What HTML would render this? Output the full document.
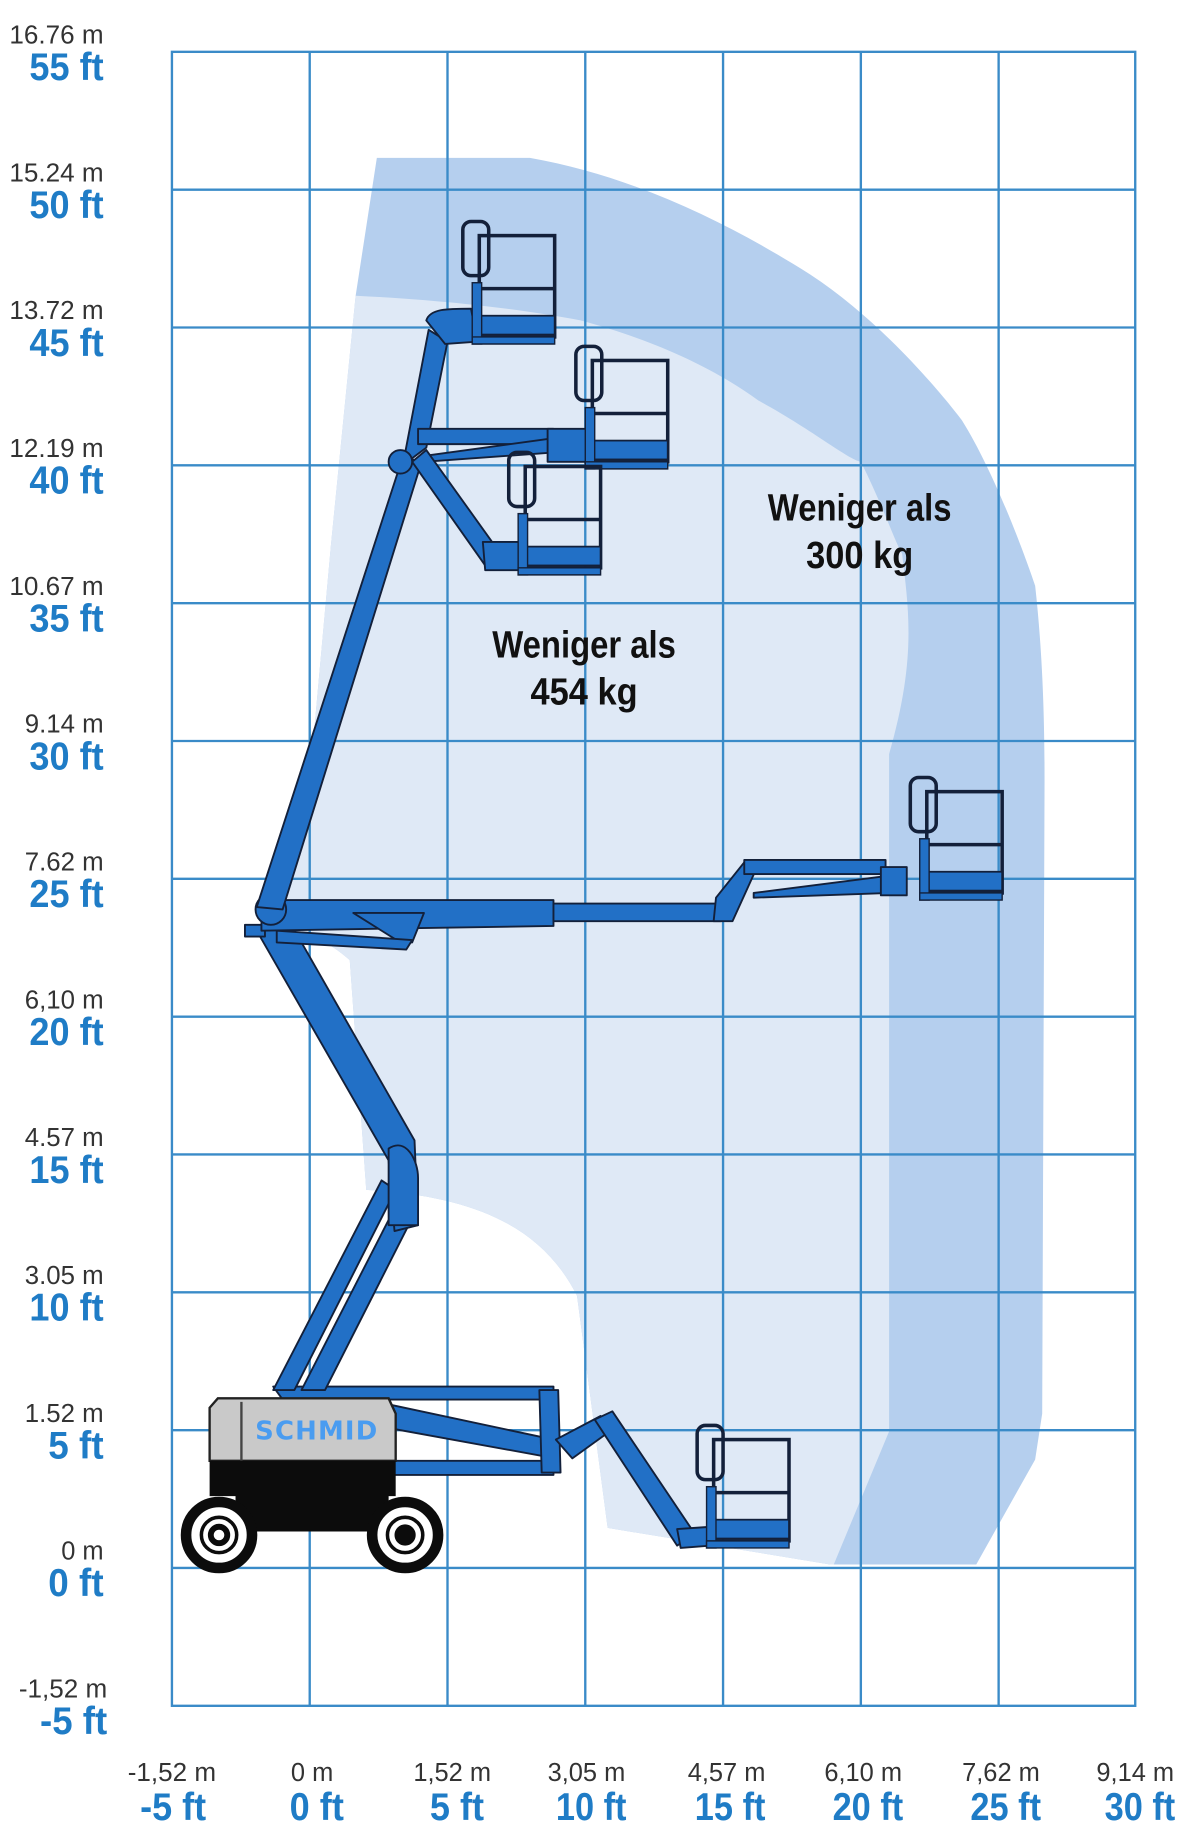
<!DOCTYPE html>
<html><head><meta charset="utf-8"><style>
html,body{margin:0;padding:0;background:#fff;width:1200px;height:1846px;overflow:hidden}
svg{display:block}
.m{font-family:"Liberation Sans Narrow","Liberation Sans",sans-serif;font-size:22px;fill:#333}
.f{font-family:"Liberation Sans Narrow","Liberation Sans",sans-serif;font-size:33px;font-weight:bold;fill:#1f7cc6}
.w{font-family:"Liberation Sans Narrow","Liberation Sans",sans-serif;font-size:32px;font-weight:bold;fill:#111}
.b{fill:#2270c6;stroke:#13203a;stroke-width:1.6;stroke-linejoin:round}
</style></head><body>
<svg width="1200" height="1846" viewBox="0 0 1019 1567" preserveAspectRatio="none" xmlns="http://www.w3.org/2000/svg">
<defs>
<g id="plat">
  <rect x="-14" y="-12" width="22" height="46" rx="7" fill="none" stroke="#13203a" stroke-width="3"/>
  <rect x="0" y="0" width="64" height="86" fill="none" stroke="#13203a" stroke-width="3"/>
  <line x1="0" y1="45" x2="64" y2="45" stroke="#13203a" stroke-width="3"/>
  <rect x="0" y="68" width="64" height="16" fill="#2270c6" stroke="#13203a" stroke-width="1.5"/>
  <rect x="-6" y="40" width="8" height="52" fill="#2270c6" stroke="#13203a" stroke-width="1.2"/>
  <path d="M-6 86 L64 86 L64 92 L-6 92Z" fill="#2270c6" stroke="#13203a" stroke-width="1.2"/>
</g>
</defs>
<!-- envelope -->
<path d="M320,134 L450,134 C540,150 620,190 688,233 C760,280 817,357 817,357 C850,410 879,497 879,497 C886,560 887,620 887,663 L885,1200 L879,1239 L829,1328 L705,1328 L516,1297 L490,1100 C460,1040 400,1015 311,1010 L297,815 C280,800 260,790 240,785 L263,662 L281,463 L302,251 Z" fill="#b5cfee"/>
<path d="M302,251 C380,255 440,262 493,272 C560,290 610,315 644,340 C690,365 720,390 731,392 C750,430 760,460 766,470 C772,520 778,560 755,640 L755,1215 L708,1328 L705,1328 L516,1297 L490,1100 C460,1040 400,1015 311,1010 L297,815 C280,800 260,790 240,785 L263,662 L281,463 Z" fill="#dfe9f6"/>
<!-- grid -->
<g stroke="#3a8bc8" stroke-width="2" fill="none">
<rect x="146" y="44" width="818" height="1404"/>
<line x1="263" y1="44" x2="263" y2="1448"/><line x1="380" y1="44" x2="380" y2="1448"/><line x1="497" y1="44" x2="497" y2="1448"/><line x1="614" y1="44" x2="614" y2="1448"/><line x1="731" y1="44" x2="731" y2="1448"/><line x1="848" y1="44" x2="848" y2="1448"/>
<line x1="146" y1="161" x2="964" y2="161"/><line x1="146" y1="278" x2="964" y2="278"/><line x1="146" y1="395" x2="964" y2="395"/><line x1="146" y1="512" x2="964" y2="512"/><line x1="146" y1="629" x2="964" y2="629"/><line x1="146" y1="746" x2="964" y2="746"/><line x1="146" y1="863" x2="964" y2="863"/><line x1="146" y1="980" x2="964" y2="980"/><line x1="146" y1="1097" x2="964" y2="1097"/><line x1="146" y1="1214" x2="964" y2="1214"/><line x1="146" y1="1331" x2="964" y2="1331"/>
</g>
<!-- labels left -->
<g text-anchor="end" lengthAdjust="spacingAndGlyphs">
<text class="m" x="88" y="37" textLength="80" lengthAdjust="spacingAndGlyphs">16.76 m</text><text class="f" x="88" y="68" textLength="63" lengthAdjust="spacingAndGlyphs">55 ft</text>
<text class="m" x="88" y="154" textLength="80" lengthAdjust="spacingAndGlyphs">15.24 m</text><text class="f" x="88" y="185" textLength="63" lengthAdjust="spacingAndGlyphs">50 ft</text>
<text class="m" x="88" y="271" textLength="80" lengthAdjust="spacingAndGlyphs">13.72 m</text><text class="f" x="88" y="302" textLength="63" lengthAdjust="spacingAndGlyphs">45 ft</text>
<text class="m" x="88" y="388" textLength="80" lengthAdjust="spacingAndGlyphs">12.19 m</text><text class="f" x="88" y="419" textLength="63" lengthAdjust="spacingAndGlyphs">40 ft</text>
<text class="m" x="88" y="505" textLength="80" lengthAdjust="spacingAndGlyphs">10.67 m</text><text class="f" x="88" y="536" textLength="63" lengthAdjust="spacingAndGlyphs">35 ft</text>
<text class="m" x="88" y="622" textLength="67" lengthAdjust="spacingAndGlyphs">9.14 m</text><text class="f" x="88" y="653" textLength="63" lengthAdjust="spacingAndGlyphs">30 ft</text>
<text class="m" x="88" y="739" textLength="67" lengthAdjust="spacingAndGlyphs">7.62 m</text><text class="f" x="88" y="770" textLength="63" lengthAdjust="spacingAndGlyphs">25 ft</text>
<text class="m" x="88" y="856" textLength="67" lengthAdjust="spacingAndGlyphs">6,10 m</text><text class="f" x="88" y="887" textLength="63" lengthAdjust="spacingAndGlyphs">20 ft</text>
<text class="m" x="88" y="973" textLength="67" lengthAdjust="spacingAndGlyphs">4.57 m</text><text class="f" x="88" y="1004" textLength="63" lengthAdjust="spacingAndGlyphs">15 ft</text>
<text class="m" x="88" y="1090" textLength="67" lengthAdjust="spacingAndGlyphs">3.05 m</text><text class="f" x="88" y="1121" textLength="63" lengthAdjust="spacingAndGlyphs">10 ft</text>
<text class="m" x="88" y="1207" textLength="67" lengthAdjust="spacingAndGlyphs">1.52 m</text><text class="f" x="88" y="1238" textLength="47" lengthAdjust="spacingAndGlyphs">5 ft</text>
<text class="m" x="88" y="1324" textLength="36" lengthAdjust="spacingAndGlyphs">0 m</text><text class="f" x="88" y="1355" textLength="47" lengthAdjust="spacingAndGlyphs">0 ft</text>
<text class="m" x="91" y="1441" textLength="75" lengthAdjust="spacingAndGlyphs">-1,52 m</text><text class="f" x="91" y="1472" textLength="57" lengthAdjust="spacingAndGlyphs">-5 ft</text>
</g>
<g text-anchor="middle">
<text class="m" x="146" y="1512" textLength="75" lengthAdjust="spacingAndGlyphs">-1,52 m</text><text class="f" x="147" y="1545" textLength="56" lengthAdjust="spacingAndGlyphs">-5 ft</text>
<text class="m" x="265" y="1512" textLength="36" lengthAdjust="spacingAndGlyphs">0 m</text><text class="f" x="269" y="1545" textLength="46" lengthAdjust="spacingAndGlyphs">0 ft</text>
<text class="m" x="384" y="1512" textLength="66" lengthAdjust="spacingAndGlyphs">1,52 m</text><text class="f" x="388" y="1545" textLength="46" lengthAdjust="spacingAndGlyphs">5 ft</text>
<text class="m" x="498" y="1512" textLength="66" lengthAdjust="spacingAndGlyphs">3,05 m</text><text class="f" x="502" y="1545" textLength="60" lengthAdjust="spacingAndGlyphs">10 ft</text>
<text class="m" x="617" y="1512" textLength="66" lengthAdjust="spacingAndGlyphs">4,57 m</text><text class="f" x="620" y="1545" textLength="60" lengthAdjust="spacingAndGlyphs">15 ft</text>
<text class="m" x="733" y="1512" textLength="66" lengthAdjust="spacingAndGlyphs">6,10 m</text><text class="f" x="737" y="1545" textLength="60" lengthAdjust="spacingAndGlyphs">20 ft</text>
<text class="m" x="850" y="1512" textLength="66" lengthAdjust="spacingAndGlyphs">7,62 m</text><text class="f" x="854" y="1545" textLength="60" lengthAdjust="spacingAndGlyphs">25 ft</text>
<text class="m" x="964" y="1512" textLength="66" lengthAdjust="spacingAndGlyphs">9,14 m</text><text class="f" x="968" y="1545" textLength="60" lengthAdjust="spacingAndGlyphs">30 ft</text>
<text class="w" x="730" y="442" textLength="156" lengthAdjust="spacingAndGlyphs">Weniger als</text><text class="w" x="730" y="482" textLength="91" lengthAdjust="spacingAndGlyphs">300 kg</text>
<text class="w" x="496" y="558" textLength="156" lengthAdjust="spacingAndGlyphs">Weniger als</text><text class="w" x="496" y="598" textLength="91" lengthAdjust="spacingAndGlyphs">454 kg</text>
</g>
<!-- machine: lower config -->
<path class="b" d="M232,1177 L470,1177 L470,1188 L240,1188Z"/>
<path class="b" d="M320,1190 L470,1222 L472,1238 L318,1210Z"/>
<path class="b" d="M335,1240 L470,1240 L470,1252 L335,1252Z"/>
<path class="b" d="M458,1180 L474,1180 L476,1250 L460,1250Z"/>
<path class="b" d="M472,1222 L510,1202 L522,1212 L486,1238Z"/>
<path class="b" d="M505,1205 L520,1198 L590,1302 L575,1312Z"/>
<path class="b" d="M575,1298 L604,1296 L604,1312 L578,1314Z"/>
<use href="#plat" x="606" y="1222"/>
<!-- riser links -->
<path class="b" d="M232,1180 L250,1180 L336,1010 L324,1002Z"/>
<path class="b" d="M256,1180 L276,1180 L352,1030 L338,1020Z"/>
<path class="b" d="M218,790 L240,772 L352,968 L355,1040 L335,1045 L330,985Z"/>
<path class="b" d="M330,975 C345,965 355,985 355,1000 L355,1040 L330,1040Z"/>
<!-- chassis -->
<path d="M185,1187 L330,1187 L336,1200 L336,1240 L178,1240 L178,1195Z" fill="#c9c9c9" stroke="#222" stroke-width="2"/>
<line x1="205" y1="1190" x2="205" y2="1240" stroke="#444" stroke-width="2"/>
<path d="M178,1240 L336,1240 L336,1270 L178,1270Z" fill="#0c0c0c"/>
<path d="M200,1265 L330,1265 L330,1300 L200,1300Z" fill="#0c0c0c"/>
<text x="269" y="1222" text-anchor="middle" font-family="'DejaVu Sans','Liberation Sans',sans-serif" font-size="22" font-weight="bold" fill="#4a9cf0" letter-spacing="1">SCHMID</text>
<g fill="none" stroke="#0c0c0c">
<circle cx="186" cy="1303" r="28" stroke-width="9" fill="#fff"/>
<circle cx="186" cy="1303" r="15" stroke-width="3"/>
<circle cx="186" cy="1303" r="7" stroke-width="5"/>
<circle cx="344" cy="1303" r="28" stroke-width="9" fill="#fff"/>
<circle cx="344" cy="1303" r="15" stroke-width="3"/>
<circle cx="344" cy="1303" r="8" fill="#0c0c0c" stroke-width="2"/>
</g>
<!-- horizontal config -->
<path class="b" d="M208,785 L208,795 L225,795 L225,785Z"/>
<path class="b" d="M222,764 L470,764 L470,786 L222,790Z"/>
<path class="b" d="M470,767 L612,767 L612,782 L470,782Z"/>
<path class="b" d="M300,775 L360,775 L350,800 L340,800Z"/>
<path class="b" d="M235,790 L350,798 L345,806 L235,800Z"/>
<path class="b" d="M608,762 L632,732 L642,738 L622,782 L606,782Z"/>
<path class="b" d="M632,730 L752,730 L752,742 L632,742Z"/>
<path class="b" d="M640,758 L750,744 L756,758 L640,762Z"/>
<path class="b" d="M748,736 L770,736 L770,760 L748,760Z"/>
<use href="#plat" x="787" y="672"/>
<circle class="b" cx="230" cy="772" r="13"/>
<!-- upper boom vertical -->
<path class="b" d="M218,770 L240,772 L358,392 L342,388Z"/>
<path class="b" d="M342,395 L362,380 L380,290 L364,280 Z"/>
<path class="b" d="M362,272 C365,262 380,262 400,262 L405,290 L378,292Z"/>
<use href="#plat" x="407" y="200"/>
<!-- middle config A -->
<path class="b" d="M355,364 L470,364 L470,377 L355,377Z"/>
<path class="b" d="M360,387 L470,372 L472,384 L360,392Z"/>
<path class="b" d="M465,364 L500,364 L500,392 L465,392Z"/>
<use href="#plat" x="503" y="306"/>
<!-- middle config B -->
<path class="b" d="M350,392 L362,382 L425,470 L412,480Z"/>
<path class="b" d="M410,460 L445,460 L445,484 L412,484Z"/>
<use href="#plat" x="446" y="396"/>
<circle class="b" cx="340" cy="392" r="10"/>
</svg>
</body></html>
